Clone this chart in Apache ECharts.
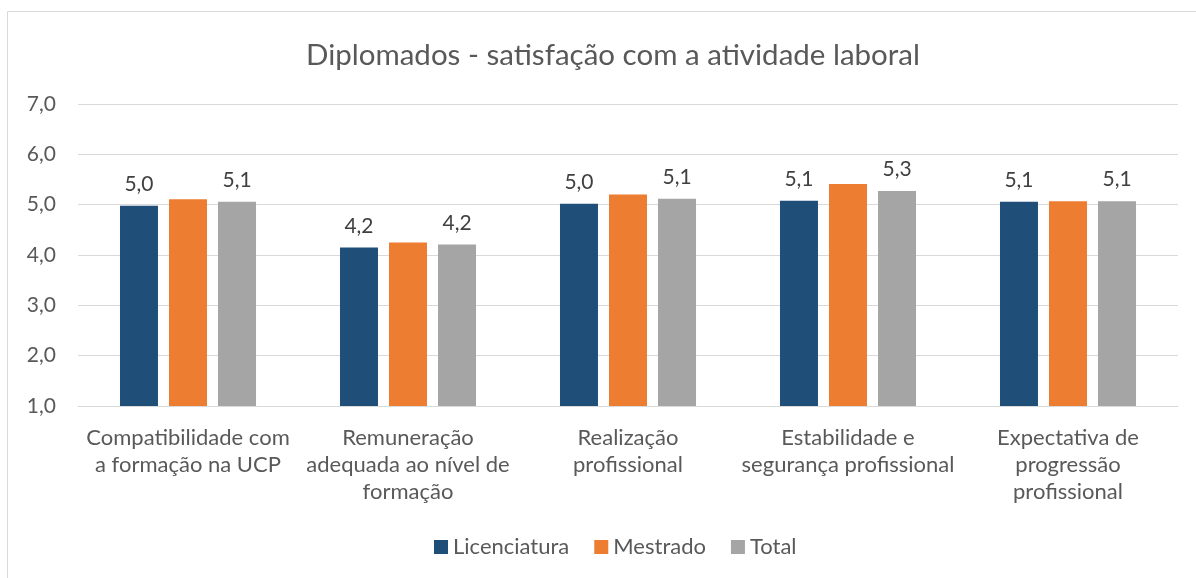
<!DOCTYPE html>
<html>
<head>
<meta charset="utf-8">
<script src="https://cdn.jsdelivr.net/npm/echarts@6/dist/echarts.min.js"></script>
<style>
  html, body { margin: 0; padding: 0; background: #fff; }
  #main { width: 1196px; height: 578px; }
</style>
</head>
<body>
<div id="main"></div>
<script>
// data
var categories = [
  "Compatibilidade com\na formação na UCP",
  "Remuneração\nadequada ao nível de\nformação",
  "Realização\nprofissional",
  "Estabilidade e\nsegurança profissional",
  "Expectativa de\nprogressão\nprofissional"
];
var licenciatura = [4.98, 4.15, 5.02, 5.08, 5.06];
var mestrado = [5.11, 4.25, 5.20, 5.41, 5.07];
var total = [5.06, 4.21, 5.12, 5.27, 5.07];
var yTicks = [1, 2, 3, 4, 5, 6, 7];

var FONT = "Lato";
var chartDom = document.getElementById("main");
var myChart = echarts.init(chartDom, null, { renderer: "canvas" });

function fmt(v) {
  return v.toFixed(1).replace(".", ",");
}

var labelOn = {
  show: true,
  position: "top",
  distance: 11,
  color: "#404040",
  fontFamily: FONT,
  fontSize: 21,
  formatter: function (p) { return fmt(p.value); }
};

var option = {
  backgroundColor: "#fff",
  animation: false,
  textStyle: { fontFamily: FONT },
  title: {
    text: "Diplomados - satisfação com a atividade laboral",
    left: 301,
    top: 35,
    textStyle: { color: "#595959", fontSize: 29.5, fontWeight: "normal", fontFamily: FONT }
  },
  graphic: [
    {
      type: "rect",
      silent: true,
      shape: { x: 7.5, y: 11.5, width: 1300, height: 700 },
      style: { fill: "none", stroke: "#d9d9d9", lineWidth: 1 }
    }
  ],
  legend: {
    bottom: 15,
    left: 429,
    itemWidth: 14,
    itemHeight: 14,
    itemGap: 25,
    icon: "rect",
    textStyle: { color: "#595959", fontSize: 22, fontFamily: FONT },
    data: ["Licenciatura", "Mestrado", "Total"]
  },
  grid: { left: 78, right: 18, top: 104, height: 302 },
  xAxis: {
    type: "category",
    data: categories,
    axisLine: { show: true, lineStyle: { color: "#d9d9d9", width: 1 } },
    axisTick: { show: false },
    axisLabel: {
      color: "#595959",
      fontSize: 22,
      fontFamily: FONT,
      lineHeight: 27,
      margin: 18,
      interval: 0,
      align: "center"
    }
  },
  yAxis: {
    type: "value",
    min: yTicks[0],
    max: yTicks[yTicks.length - 1],
    interval: 1,
    axisLine: { show: false },
    axisTick: { show: false },
    splitLine: { lineStyle: { color: "#d9d9d9", width: 1 } },
    axisLabel: {
      color: "#595959",
      fontSize: 21,
      fontFamily: FONT,
      margin: 22,
      formatter: function (v) { return fmt(v); }
    }
  },
  series: [
    {
      name: "Licenciatura",
      type: "bar",
      data: licenciatura,
      barWidth: 38,
      barGap: "29%",
      itemStyle: { color: "#1f4e79" },
      label: labelOn
    },
    {
      name: "Mestrado",
      type: "bar",
      data: mestrado,
      barWidth: 38,
      itemStyle: { color: "#ed7d31" }
    },
    {
      name: "Total",
      type: "bar",
      data: total,
      barWidth: 38,
      itemStyle: { color: "#a5a5a5" },
      label: labelOn
    }
  ]
};

option && myChart.setOption(option);
</script>
</body>
</html>
